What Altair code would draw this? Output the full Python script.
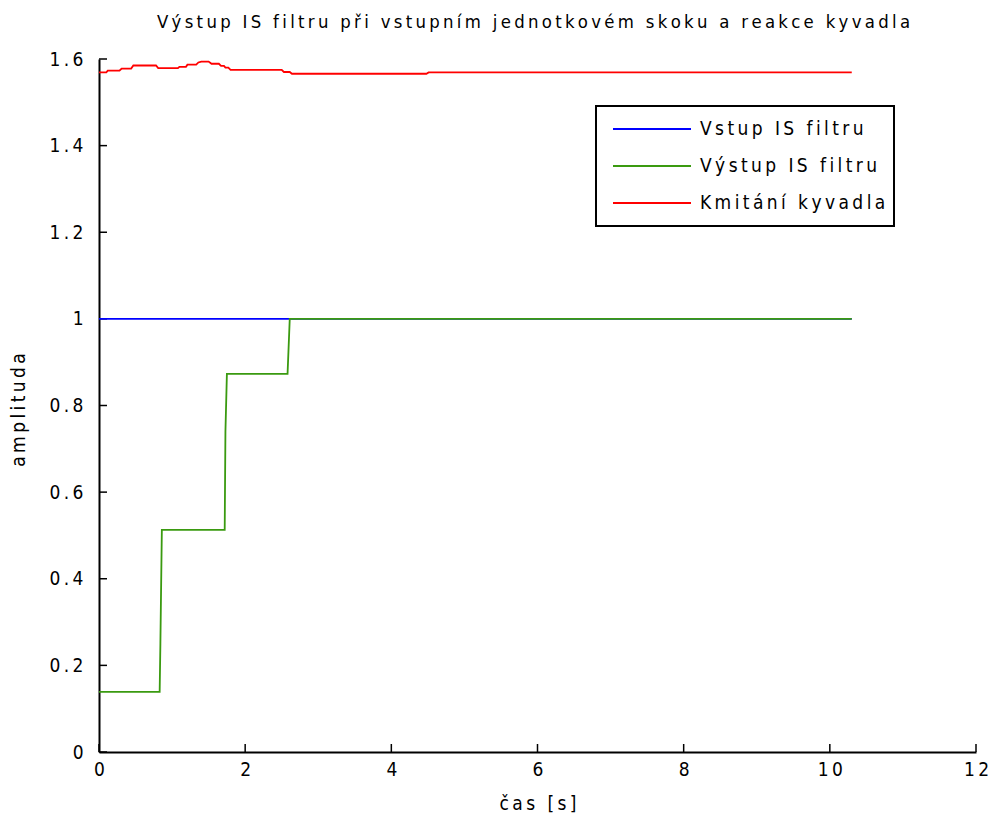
import altair as alt
import pandas as pd

# Step input to the input-shaping filter
vstup_t = [0.0, 10.3]
vstup_y = [1.0, 1.0]

# Staircase output of the input-shaping filter
vystup_t = [0.0, 0.83, 0.84, 0.86, 1.72, 1.73, 1.75, 2.58, 2.61, 10.3]
vystup_y = [0.139, 0.139, 0.25, 0.513, 0.513, 0.74, 0.873, 0.873, 1.0, 1.0]

# Pendulum angle response
kyv_t = [0.0, 0.10, 0.12, 0.28, 0.31, 0.44, 0.47, 0.78, 0.81, 1.08, 1.10, 1.19,
         1.21, 1.33, 1.36, 1.40, 1.50, 1.54, 1.64, 1.67, 1.71, 1.73, 1.77, 1.80,
         2.50, 2.53, 2.61, 2.64, 4.48, 4.51, 10.3]
kyv_y = [1.569, 1.569, 1.573, 1.573, 1.578, 1.578, 1.585, 1.585, 1.579, 1.579,
         1.582, 1.582, 1.587, 1.587, 1.592, 1.594, 1.594, 1.589, 1.589, 1.584,
         1.584, 1.580, 1.580, 1.575, 1.575, 1.570, 1.570, 1.566, 1.566, 1.569,
         1.569]

series_names = ["Vstup IS filtru", "Výstup IS filtru", "Kmitání kyvadla"]
series_colors = ["#0000ff", "#3a9a10", "#ff0000"]

x_ticks = [0, 2, 4, 6, 8, 10, 12]
y_ticks = [0, 0.2, 0.4, 0.6, 0.8, 1.0, 1.2, 1.4, 1.6]

FONT = "DejaVu Sans Condensed, Liberation Sans Narrow, sans-serif"
FS = 19
THIN = "\u2009"


def spaced(s):
    return THIN.join(s)


def spaced_expr(inner):
    return "replace(" + inner + ", regexp('(.)(?=.)', 'g'), '$1" + THIN + "')"


rows = []
for name, ts, ys in zip(series_names, [vstup_t, vystup_t, kyv_t], [vstup_y, vystup_y, kyv_y]):
    for i, (t, y) in enumerate(zip(ts, ys)):
        rows.append({"serie": name, "t": t, "y": y, "i": i})
df = pd.DataFrame(rows)

W, H = 877, 693

x_scale = alt.Scale(domain=[0, 12], nice=False, zero=False)
y_scale = alt.Scale(domain=[0, 1.6], nice=False, zero=False)

lines = alt.Chart(df).mark_line(strokeWidth=1.8, clip=True).encode(
    x=alt.X("t:Q", scale=x_scale,
            axis=alt.Axis(values=x_ticks, ticks=False, tickSize=0, grid=False,
                          domainColor="black", domainWidth=2,
                          labelFont=FONT, labelFontSize=FS, labelColor="black",
                          labelPadding=8, labelFlush=False,
                          labelExpr=spaced_expr("format(datum.value, '~g')"),
                          title=spaced("čas [s]"), titleFont=FONT, titleFontSize=FS,
                          titleFontWeight="normal", titleColor="black",
                          titleX=W / 2, titleY=51, titleBaseline="middle")),
    y=alt.Y("y:Q", scale=y_scale,
            axis=alt.Axis(values=y_ticks, ticks=False, tickSize=0, grid=False,
                          domainColor="black", domainWidth=2,
                          labelFont=FONT, labelFontSize=FS, labelColor="black",
                          labelPadding=16, labelFlush=False,
                          labelExpr=spaced_expr("format(datum.value, '.1~f')"),
                          title=spaced("amplituda"), titleFont=FONT, titleFontSize=FS,
                          titleFontWeight="normal", titleColor="black",
                          titleX=-81, titleY=H / 2 + 4, titleAngle=-90,
                          titleAlign="center", titleBaseline="middle")),
    color=alt.Color("serie:N",
                    scale=alt.Scale(domain=series_names, range=series_colors),
                    sort=series_names,
                    legend=alt.Legend(title=None, orient="none", legendX=497, legendY=47,
                                      symbolType="stroke", symbolSize=6084,
                                      symbolStrokeWidth=2, symbolOffset=8,
                                      clipHeight=30, rowPadding=7, padding=8,
                                      labelFont=FONT, labelFontSize=FS, labelColor="black",
                                      labelOffset=8, labelLimit=400,
                                      labelExpr=spaced_expr("datum.label"),
                                      strokeColor="black",
                                      fillColor="white")),
    detail="serie:N",
    order="i:Q",
)

xt = pd.DataFrame({"v": x_ticks})
yt = pd.DataFrame({"v": y_ticks})

x_tick_marks = alt.Chart(xt).mark_rule(color="black", strokeWidth=1.5).encode(
    x=alt.X("v:Q", scale=x_scale),
    y=alt.value(H), y2=alt.value(H - 8),
)
y_tick_marks = alt.Chart(yt).mark_rule(color="black", strokeWidth=1.5).encode(
    y=alt.Y("v:Q", scale=y_scale),
    x=alt.value(0), x2=alt.value(8),
)

chart = alt.layer(x_tick_marks, y_tick_marks, lines).properties(
    width=W, height=H,
    title=alt.TitleParams(
        text=spaced("Výstup IS filtru při vstupním jednotkovém skoku a reakce kyvadla"),
        font=FONT, fontSize=18.4, fontWeight="normal", color="black",
        anchor="middle", frame="group", baseline="alphabetic", offset=4, dx=-4),
    padding={"left": 99, "top": 59, "right": 12, "bottom": 66},
    autosize=alt.AutoSizeParams(type="none"),
    background="white",
).configure_view(stroke=None).configure_legend(strokeWidth=2)

chart.save("out.html", embed_options={"renderer": "svg", "actions": False})
